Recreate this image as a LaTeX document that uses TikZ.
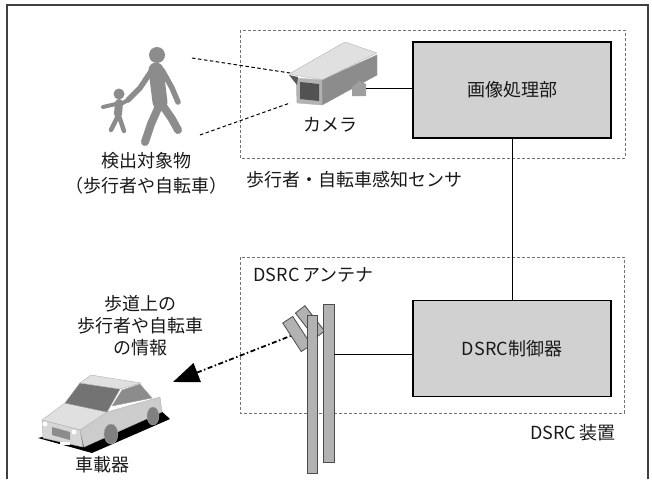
\documentclass[tikz,border=0pt]{standalone}
\usepackage{fontspec}
\setmainfont{Noto Sans CJK JP}
\usetikzlibrary{arrows.meta}

\begin{document}
\begin{tikzpicture}[x=1pt,y=-1pt,
  every node/.style={font=\fontsize{18}{22}\selectfont,text=black!90},
  unit/.style={draw=black,line width=1.6pt,fill=black!18,minimum width=198pt,minimum height=96pt},
  group/.style={draw=black!55,dashed,dash pattern=on 3pt off 2pt,line width=0.8pt},
  sight/.style={dashed,dash pattern=on 3.5pt off 2.5pt,line width=1pt},
  wire/.style={line width=1pt},
  person/.style={draw=black!45,line cap=round,line join=round},
  bar/.style={draw=black!70,fill=black!30,line width=0.8pt},
  radio/.style={line width=1.8pt,dash pattern=on 5pt off 2.5pt on 1.5pt off 2.5pt,
    -{Triangle[length=26pt,width=20pt]}}]
\useasboundingbox (0,0) rectangle (652,479);

% outer frame, open at the bottom
\draw[line width=1.2pt,black!75] (7,479) -- (7,5) -- (648,5) -- (648,479);

% dashed groups
\draw[group] (240,30) rectangle (625,158);
\draw[group] (240,257) rectangle (624,413);

% processing units
\node[unit] (proc) at (512,90) {画像処理部};
\node[unit] (ctrl) at (512,348.5) {DSRC制御器};

% pedestrians
\fill[black!45] (157,55) circle (8);
\draw[person,line width=15pt] (156,70) -- (160,102);
\draw[person,line width=8pt] (159,106) -- (151,124) -- (145,142);
\draw[person,line width=8pt] (163,106) -- (172,119) -- (178,130);
\draw[person,line width=5.5pt] (152,70) -- (140,88) -- (128,100);
\draw[person,line width=5.5pt] (162,70) -- (172,88) -- (178,102);
\fill[black!45] (119,94) circle (5.5);
\draw[person,line width=8pt] (119,103) -- (118,114);
\draw[person,line width=4.5pt] (118,116) -- (111,130);
\draw[person,line width=4.5pt] (119,116) -- (124,131);
\draw[person,line width=4pt] (116,104) -- (103,107);
\draw[person,line width=4pt] (121,104) -- (128,100);
\node[align=center,font=\fontsize{18}{25}\selectfont] (target) at (146,173)
  {検出対象物\\（歩行者や自転車）};

% camera
\coordinate (eyeA) at (192,58);
\coordinate (eyeB) at (200,135);
\coordinate (lensA) at (290,73);
\coordinate (lensB) at (290,103);
\coordinate (mount) at (366,88);
\draw[sight] (eyeA) -- (lensA);
\draw[sight] (eyeB) -- (lensB);
\filldraw[fill=black!45,draw=black!45] (322,80) -- (377,55) -- (377,75) -- (322,105) -- cycle;
\filldraw[fill=black!12,draw=black!30] (289,74) -- (345,42) -- (377,53) -- (322,80) -- cycle;
\filldraw[fill=black!30,draw=black!30] (296,78) -- (322,80) -- (322,105) -- (297,103) -- cycle;
\fill[black!68] (300,82) -- (319,84) -- (319,101) -- (300,99) -- cycle;
\fill[black!65] (289,75) -- (298,77) -- (297,85) -- cycle;
\fill[black!38] (352,87) -- (359,81) -- (366,84) -- (366,96) -- (352,96) -- cycle;
\node (cam) at (330,125) {カメラ};
\draw[wire] (mount) -- (mount -| proc.west);

\node[anchor=west] (sensor) at (243,180) {歩行者・自転車感知センサ};
\draw[wire] (proc.south) -- (ctrl.north);

% antenna
\coordinate (ant) at (298,333);
\coordinate (rx) at (173,382);
\coordinate (feed) at (334,354);
\draw[radio] (ant) -- (rx);
\node[bar,rotate=-57,minimum width=34pt,minimum height=12pt,inner sep=0pt] (elemA) at (297,334) {};
\node[bar,rotate=-52,minimum width=32pt,minimum height=12pt,inner sep=0pt] (elemB) at (310,322) {};
\draw[bar] (307,315) rectangle (317,473);
\draw[bar] (323,304) rectangle (334,462);
\draw[wire] (feed) -- (feed -| ctrl.west);
\node[anchor=west] (antlabel) at (250,275) {DSRC\,アンテナ};
\node[anchor=east] (dsrc) at (619,433) {DSRC\,装置};

\node[align=center] (info) at (140,326) {歩道上の\\歩行者や自転車\\の情報};

% vehicle
\fill[black] (38,438) -- (92,453) -- (170,419) -- (158,408) -- cycle;
\filldraw[fill=black!20,draw=black!30] (80,430) -- (107,412) -- (160,397) -- (162,412) -- (84,447) -- cycle;
\filldraw[fill=black!12,draw=black!30] (65,403) -- (107,412) -- (80,430) -- (42,420) -- cycle;
\filldraw[fill=black!55,draw=black!40] (80,383) -- (120,389) -- (107,412) -- (65,403) -- cycle;
\filldraw[fill=black!12,draw=black!30] (80,383) -- (91,375) -- (141,383) -- (120,389) -- cycle;
\filldraw[fill=black!45,draw=black!35] (112,406) -- (122,390) -- (140,384) -- (152,398) -- cycle;
\filldraw[fill=black!16,draw=black!30] (42,420) -- (80,430) -- (83,447) -- (43,438) -- cycle;
\fill[black!45] (52,427) -- (70,432) -- (70,440) -- (52,435) -- cycle;
\fill[white] (45,424) circle (2.5) (74,432) circle (2.5);
\fill[white] (60,442) rectangle (70,445);
\filldraw[fill=black!50,draw=black!35] (111,434) ellipse (7 and 10);
\filldraw[fill=black!50,draw=black!35] (153,416) ellipse (6 and 9);
\node (obu) at (102,465) {車載器};
\end{tikzpicture}
\end{document}
